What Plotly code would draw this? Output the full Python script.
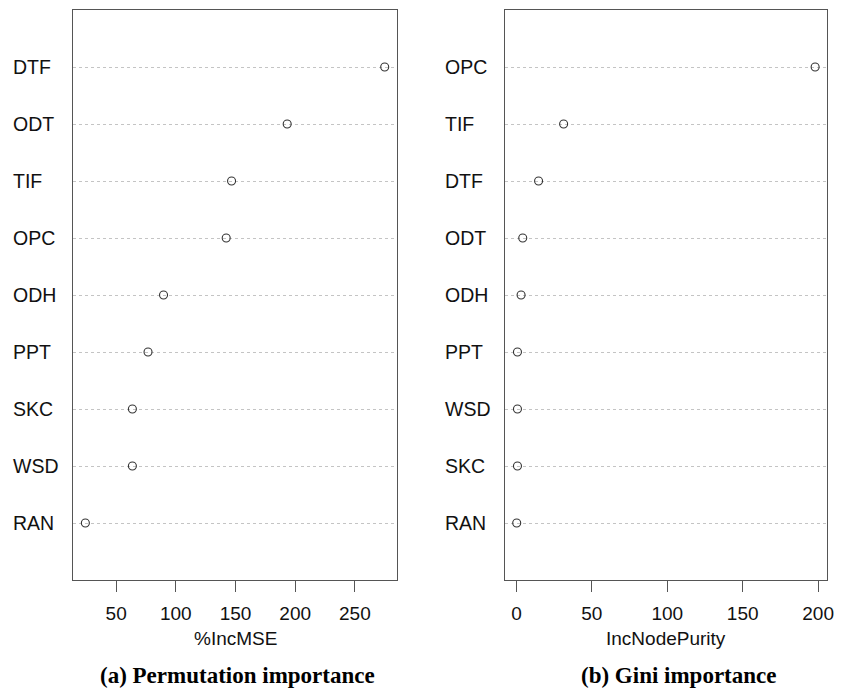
import plotly.graph_objects as go

# Permutation importance (%IncMSE), ordered top to bottom
perm_vars = ["DTF", "ODT", "TIF", "OPC", "ODH", "PPT", "SKC", "WSD", "RAN"]
perm_vals = [275.0, 193.3, 146.7, 142.2, 89.7, 76.7, 63.6, 63.6, 24.2]

# Gini importance (IncNodePurity), ordered top to bottom
gini_vars = ["OPC", "TIF", "DTF", "ODT", "ODH", "PPT", "WSD", "SKC", "RAN"]
gini_vals = [198.0, 31.3, 14.7, 4.2, 3.1, 0.7, 0.7, 0.7, 0.2]

perm_ticks = [50, 100, 150, 200, 250]
gini_ticks = [0, 50, 100, 150, 200]

W, H = 842, 691
SANS = "Liberation Sans, Arial, sans-serif"
SERIF = "Liberation Serif, Times New Roman, serif"


def padded(vals):
    lo, hi = min(vals), max(vals)
    d = (hi - lo) * 0.04
    return [lo - d, hi + d]


def rows(n):
    # first item at the top row
    return list(range(n, 0, -1))


fig = go.Figure()
panels = [
    (perm_vars, perm_vals, "x", "y"),
    (gini_vars, gini_vals, "x2", "y2"),
]
for names, vals, xa, ya in panels:
    fig.add_trace(go.Scatter(
        x=vals, y=rows(len(vals)), xaxis=xa, yaxis=ya, mode="markers",
        marker=dict(symbol="circle-open", size=8, color="#333333",
                    line=dict(width=1.1, color="#333333")),
        showlegend=False, hoverinfo="skip",
    ))

ybase = 1 - 580 / H
ytop = 1 - 10 / H
axis_common = dict(showline=True, mirror=True, linecolor="#555555", linewidth=1,
                   zeroline=False)
xcommon = dict(axis_common, ticks="outside", ticklen=11, tickwidth=1,
               tickcolor="#555555", showgrid=False, ticklabelstandoff=5,
               tickfont=dict(family=SANS, size=19, color="#111111"))
ycommon = dict(axis_common, range=[0, 10], tickvals=list(range(1, 10)),
               showticklabels=False, ticks="", showgrid=True,
               gridcolor="#c4c4c4", gridwidth=1, griddash="dot")

fig.update_layout(
    width=W, height=H, margin=dict(l=0, r=0, t=0, b=0),
    paper_bgcolor="white", plot_bgcolor="white",
    xaxis=dict(xcommon, domain=[74 / W, 400 / W], range=padded(perm_vals),
               tickvals=perm_ticks, anchor="y"),
    yaxis=dict(ycommon, domain=[ybase, ytop], anchor="x"),
    xaxis2=dict(xcommon, domain=[509 / W, 834 / W], range=padded(gini_vals),
                tickvals=gini_ticks, anchor="y2"),
    yaxis2=dict(ycommon, domain=[ybase, ytop], anchor="x2"),
)

annotations = []
for names, ya, xpos in [(perm_vars, "y", 11 / W), (gini_vars, "y2", 447 / W)]:
    for name, r in zip(names, rows(len(names))):
        annotations.append(dict(
            text=name, x=xpos, xref="paper", y=r, yref=ya, xanchor="left",
            yanchor="middle", showarrow=False,
            font=dict(family=SANS, size=19.5, color="#111111")))

for text, cx in [("%IncMSE", 237 / W), ("IncNodePurity", 672 / W)]:
    annotations.append(dict(
        text=text, x=cx, xref="paper", y=1 - 638 / H, yref="paper",
        xanchor="center", yanchor="middle", showarrow=False,
        font=dict(family=SANS, size=19, color="#111111")))

for text, cx in [("<b>(a) Permutation importance</b>", 239 / W),
                 ("<b>(b) Gini importance</b>", 685 / W)]:
    annotations.append(dict(
        text=text, x=cx, xref="paper", y=1 - 675 / H, yref="paper",
        xanchor="center", yanchor="middle", showarrow=False,
        font=dict(family=SERIF, size=23, color="#000000")))

fig.update_layout(annotations=annotations)
fig.write_html("out.html")
